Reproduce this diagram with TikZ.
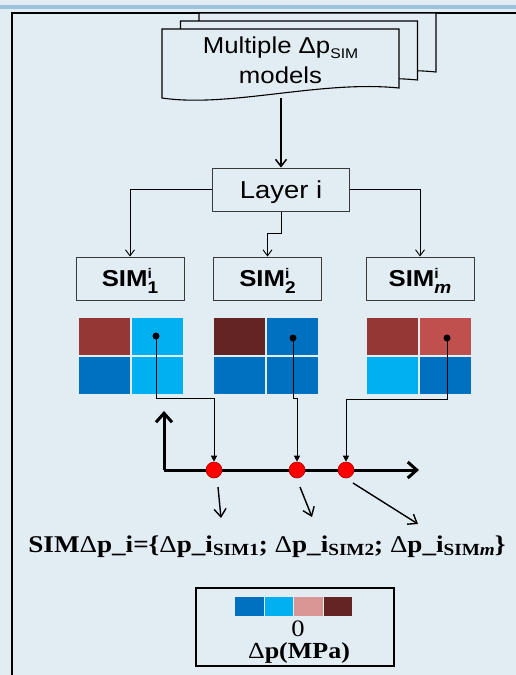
\documentclass[tikz,border=0pt]{standalone}
\usepackage{fontspec}
\setmainfont{Liberation Serif}[FakeStretch=1.13]
\newfontfamily\arialx{Liberation Sans}[FakeStretch=1.12]
\usetikzlibrary{arrows.meta}

\definecolor{bgc}{HTML}{E2ECF3}
\definecolor{stripe}{HTML}{9CC3DA}
\definecolor{dkblue}{HTML}{0070C0}
\definecolor{ltblue}{HTML}{00B0F0}
\definecolor{brick}{HTML}{953735}
\definecolor{maroon}{HTML}{632523}
\definecolor{rose}{HTML}{C0504D}
\definecolor{pinkish}{HTML}{DA9694}
\definecolor{boxline}{HTML}{3A3A3A}

% upright delta and lowered subscript for the serif formulas
\newcommand\dlt{{\mdseries Δ}}
\newcommand\lowsub[1]{\raisebox{-3.5pt}{\fontsize{17}{17}\selectfont #1}}
% stacked superscript i and subscript for the SIM labels
\newcommand\simlabel[1]{SIM\rlap{\raisebox{8pt}{\fontsize{14}{14}\selectfont i}}\raisebox{-6.5pt}{\fontsize{17}{17}\selectfont #1}}

% one 2x2 block of coloured cells: x, y, top-left, top-right, bottom-left, bottom-right
\newcommand\cellgrid[6]{%
  \fill[#3] (#1,#2) rectangle ++(51,37);
  \fill[#4] (#1+53,#2) rectangle ++(51,37);
  \fill[#5] (#1,#2+39) rectangle ++(51,37);
  \fill[#6] (#1+53,#2+39) rectangle ++(51,37);
}

% a document sheet with a wavy lower edge
\newcommand\docsheet{%
  \draw[line width=1.1pt, fill=bgc] (162,29) -- (399,29) -- (399,88)
    .. controls (320,80) and (230,108) .. (162,98) -- cycle;
}

\tikzset{
  box/.style={draw=boxline, line width=1pt, fill=bgc, inner sep=0pt},
  flow/.style={line width=0.9pt, -{Straight Barb[length=6pt,width=9pt]}},
  feed/.style={line width=1.5pt, -{Straight Barb[length=7pt,width=11pt]}},
  probe/.style={line width=0.9pt, -{Triangle[length=6pt,width=6pt]}},
  axis/.style={line width=3pt, -{Straight Barb[length=9pt,width=16pt]}},
  pick/.style={line width=1.4pt, -{Straight Barb[length=8pt,width=12pt]}},
  reddot/.style={circle, minimum size=16pt, inner sep=0pt, fill=red, draw=red!70!black, line width=0.6pt},
  blackdot/.style={circle, minimum size=7pt, inner sep=0pt, fill=black},
  sans/.style={font=\arialx\fontsize{#1}{#1}\selectfont},
  sansbold/.style={font=\arialx\bfseries\fontsize{#1}{#1}\selectfont},
  simbox/.style={box, sansbold=23, minimum width=108pt, minimum height=43pt, text height=16.7pt, text depth=0pt},
}

\begin{document}
\begin{tikzpicture}[x=1pt,y=-1pt]
  \useasboundingbox (0,0) rectangle (516,675);
  \fill[bgc] (0,0) rectangle (516,675);
  \fill[stripe] (0,5) rectangle (516,9);
  % panel frame
  \draw[line width=1.2pt] (12,675) -- (12,13) -- (516,13);

  % stack of model sheets
  \begin{scope}[shift={(37,-16)}]\docsheet\end{scope}
  \begin{scope}[shift={(18.5,-8)}]\docsheet\end{scope}
  \docsheet
  \node[sans=23, anchor=base, inner sep=0] (mtxt1) at (280.5,53.3)
    {Multiple Δp\raisebox{-5pt}{\fontsize{14}{14}\selectfont SIM}};
  \node[sans=23, anchor=base, inner sep=0] (mtxt2) at (280.5,83.3) {models};
  \coordinate (docbot) at (281,98);

  % layer and simulation boxes
  \node[box, sans=24.5, minimum width=137pt, minimum height=43pt, text height=17.7pt, text depth=0pt]
    (layer) at (281,189.5) {Layer i};
  \node[simbox] (sim1) at (130,278.5) {\simlabel{1}};
  \node[simbox] (sim2) at (267.5,278.5) {\simlabel{2}};
  \node[simbox] (simm) at (420,278.5) {\simlabel{\textit{m}}};

  \draw[feed] (docbot) -- (layer.north);
  \draw[flow] (layer.west) -| (sim1.north);
  \draw[flow] (layer.east) -| (simm.north);
  \draw[flow] (layer.south) -- ++(0,22) -| (sim2.north);

  % pressure change cells
  \cellgrid{79}{318}{brick}{ltblue}{dkblue}{ltblue}
  \cellgrid{214}{318}{maroon}{dkblue}{dkblue}{dkblue}
  \cellgrid{367}{318}{brick}{rose}{ltblue}{dkblue}

  % sampling axes
  \coordinate (origin) at (164,470);
  \coordinate (ytip) at (164,411);
  \coordinate (xtip) at (419,470);
  \draw[axis] (origin) -- (ytip);
  \draw[axis] (origin) -- (xtip);

  \node[reddot] (r1) at (214,470) {};
  \node[reddot] (r2) at (297,470) {};
  \node[reddot] (r3) at (346,470) {};

  \node[blackdot] (d1) at (156,336) {};
  \node[blackdot] (d2) at (293,338) {};
  \node[blackdot] (d3) at (447,338) {};
  \draw[probe] (d1.center) -- (156,398) -| (r1.north);
  \draw[probe] (d2.center) -- (293,398) -| (r2.north);
  \draw[probe] (d3.center) -- (447,399) -| (r3.north);

  % picks into the set
  \coordinate (p1s) at (218,487);
  \coordinate (p1e) at (221,518);
  \coordinate (p2s) at (300,487);
  \coordinate (p2e) at (312,517);
  \coordinate (p3s) at (353,483);
  \coordinate (p3e) at (418,524);
  \draw[pick] (p1s) -- (p1e);
  \draw[pick] (p2s) -- (p2e);
  \draw[pick] (p3s) -- (p3e);

  \node[anchor=base, inner sep=0, font=\bfseries\fontsize{24}{28}\selectfont] (formula) at (267,552)
    {SIM\dlt p\_i=\{\dlt p\_i\lowsub{SIM1}; \dlt p\_i\lowsub{SIM2}; \dlt p\_i\lowsub{SIM\textit{m}}\}};

  % colour legend
  \node[draw, line width=1.6pt, minimum width=198pt, minimum height=78pt, inner sep=0pt] (legend) at (295,627) {};
  \fill[dkblue]  (235,597) rectangle ++(28.5,19);
  \fill[ltblue]  (264.5,597) rectangle ++(28.5,19);
  \fill[pinkish] (294,597) rectangle ++(28.5,19);
  \fill[maroon]  (323.5,597) rectangle ++(28.5,19);
  \node[anchor=base, inner sep=0, font=\fontsize{23.5}{26}\selectfont] (zero) at (298,636) {0};
  \node[anchor=base, inner sep=0, font=\bfseries\fontsize{23}{26}\selectfont] (unit) at (299,658) {\dlt p(MPa)};
\end{tikzpicture}
\end{document}
